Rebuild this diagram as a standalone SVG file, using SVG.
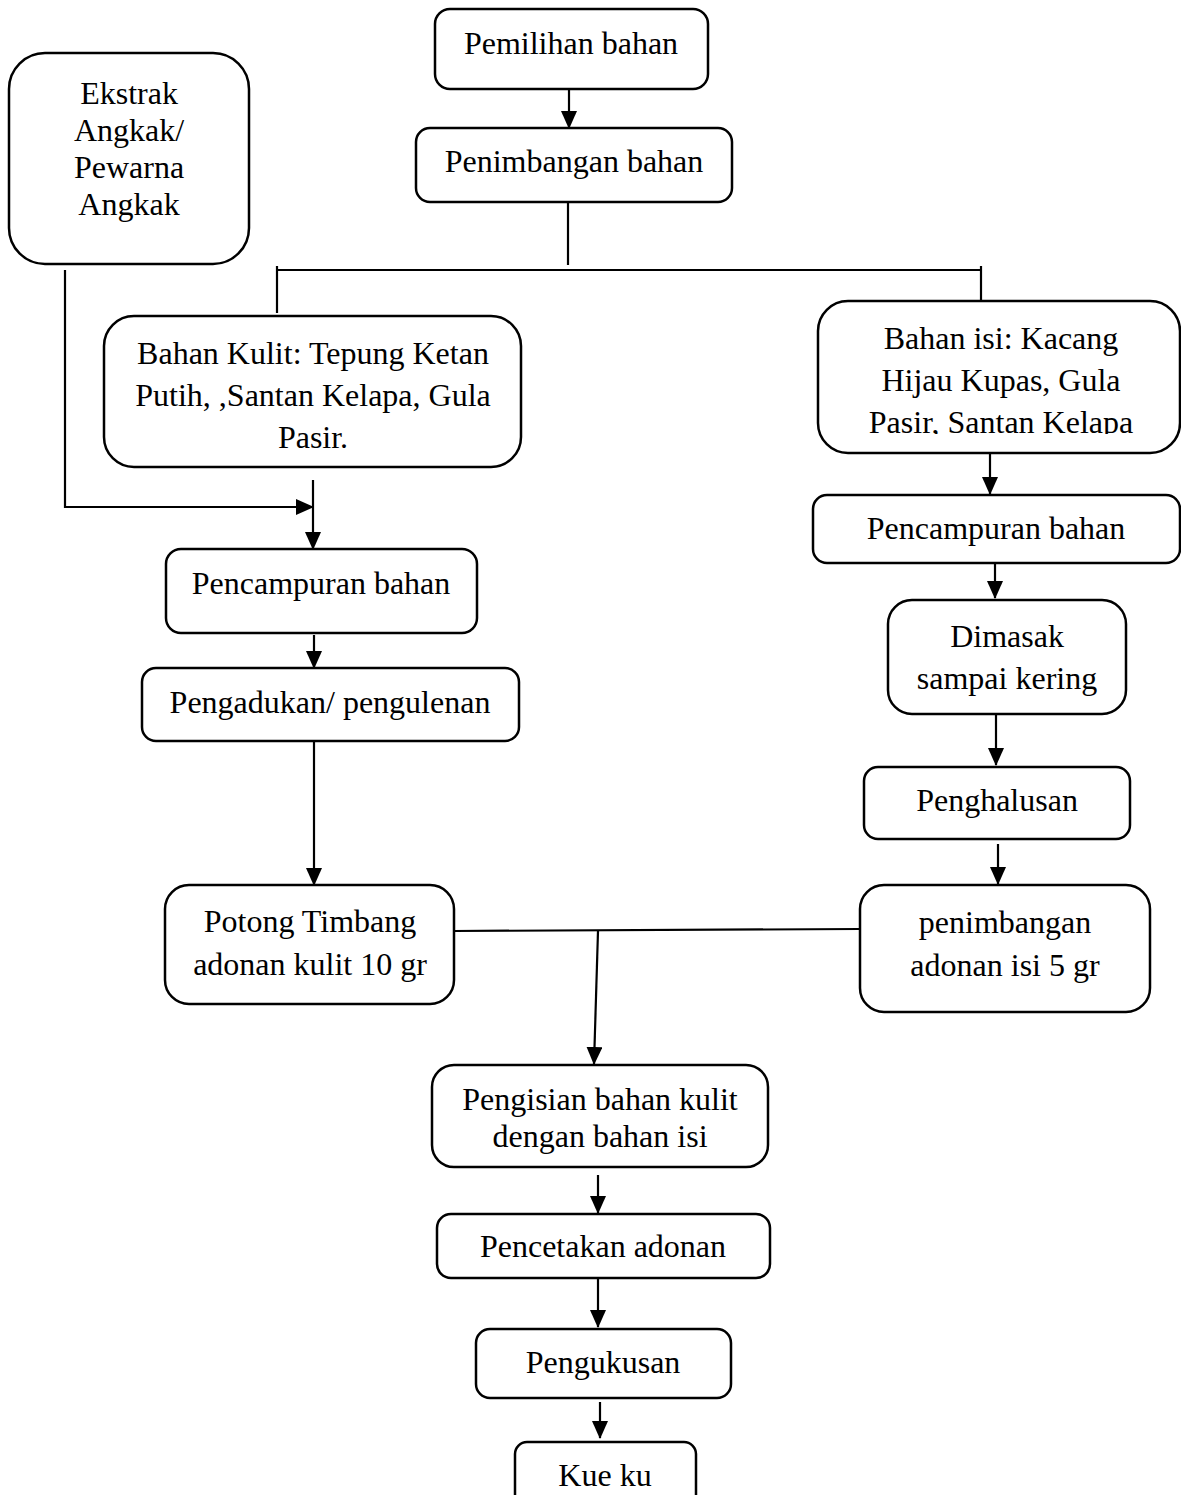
<svg xmlns="http://www.w3.org/2000/svg" width="1181" height="1495" viewBox="0 0 1181 1495">
<style>
.box{fill:#fff;stroke:#000;stroke-width:2.5}
.t{font-family:"Liberation Serif","Times New Roman",serif;font-size:32px;fill:#000;text-anchor:middle}
.c{fill:none;stroke:#000;stroke-width:2.2}
.ca{fill:none;stroke:#000;stroke-width:2.2;marker-end:url(#ah)}
</style>
<defs>
<marker id="ah" viewBox="0 0 18 16" refX="17" refY="8" markerWidth="18" markerHeight="16" markerUnits="userSpaceOnUse" orient="auto">
<path d="M0,0 L18,8 L0,16 Z" fill="#000"/>
</marker>
<clipPath id="clipIsi"><rect x="818" y="301" width="363" height="133"/></clipPath>
</defs>
<rect width="1181" height="1495" fill="#fff"/>
<g id="connectors">
<line class="ca" x1="569" y1="89" x2="569" y2="128"/>
<line class="c" x1="568" y1="203" x2="568" y2="265"/>
<line class="c" x1="277" y1="270" x2="981" y2="270"/>
<line class="c" x1="277" y1="266" x2="277" y2="313"/>
<line class="c" x1="981" y1="266" x2="981" y2="301"/>
<polyline class="ca" points="65,270 65,507 313,507"/>
<line class="ca" x1="313" y1="480" x2="313" y2="549"/>
<line class="ca" x1="314" y1="635" x2="314" y2="668"/>
<line class="ca" x1="314" y1="738" x2="314" y2="885"/>
<line class="ca" x1="990" y1="453" x2="990" y2="494"/>
<line class="ca" x1="995" y1="564" x2="995" y2="598"/>
<line class="ca" x1="996" y1="714" x2="996" y2="765"/>
<line class="ca" x1="998" y1="844" x2="998" y2="884"/>
<line class="c" x1="454" y1="931" x2="860" y2="929"/>
<line class="ca" x1="598" y1="931" x2="594" y2="1064"/>
<line class="ca" x1="598" y1="1175" x2="598" y2="1213"/>
<line class="ca" x1="598" y1="1278" x2="598" y2="1327"/>
<line class="ca" x1="600" y1="1402" x2="600" y2="1438"/>
</g>
<g id="n-pemilihan"><rect class="box" x="435" y="9" width="273" height="80" rx="15"/><text class="t" x="571" y="54">Pemilihan bahan</text></g>
<g id="n-penimbangan"><rect class="box" x="416" y="128" width="316" height="74" rx="14"/><text class="t" x="574" y="172">Penimbangan bahan</text></g>
<g id="n-ekstrak"><rect class="box" x="9" y="53" width="240" height="211" rx="36"/>
<text class="t" x="129" y="104">Ekstrak</text><text class="t" x="129" y="141">Angkak/</text><text class="t" x="129" y="178">Pewarna</text><text class="t" x="129" y="215">Angkak</text></g>
<g id="n-kulit"><rect class="box" x="104" y="316" width="417" height="151" rx="30"/>
<text class="t" x="313" y="364">Bahan Kulit: Tepung Ketan</text><text class="t" x="313" y="406">Putih, ,Santan Kelapa, Gula</text><text class="t" x="313" y="448">Pasir.</text></g>
<g id="n-isi"><rect class="box" x="818" y="301" width="362" height="152" rx="30"/>
<text class="t" x="1001" y="349">Bahan isi: Kacang</text><text class="t" x="1001" y="391">Hijau Kupas, Gula</text><text class="t" x="1001" y="433" clip-path="url(#clipIsi)">Pasir, Santan Kelapa</text></g>
<g id="n-campur-kiri"><rect class="box" x="166" y="549" width="311" height="84" rx="15"/><text class="t" x="321" y="594">Pencampuran bahan</text></g>
<g id="n-adukan"><rect class="box" x="142" y="668" width="377" height="73" rx="14"/><text class="t" x="330" y="713">Pengadukan/ pengulenan</text></g>
<g id="n-potong"><rect class="box" x="165" y="885" width="289" height="119" rx="24"/>
<text class="t" x="310" y="932">Potong Timbang</text><text class="t" x="310" y="975">adonan kulit 10 gr</text></g>
<g id="n-campur-kanan"><rect class="box" x="813" y="495" width="367" height="68" rx="14"/><text class="t" x="996" y="539">Pencampuran bahan</text></g>
<g id="n-dimasak"><rect class="box" x="888" y="600" width="238" height="114" rx="24"/>
<text class="t" x="1007" y="647">Dimasak</text><text class="t" x="1007" y="689">sampai kering</text></g>
<g id="n-penghalusan"><rect class="box" x="864" y="767" width="266" height="72" rx="14"/><text class="t" x="997" y="811">Penghalusan</text></g>
<g id="n-timbang-isi"><rect class="box" x="860" y="885" width="290" height="127" rx="24"/>
<text class="t" x="1005" y="933">penimbangan</text><text class="t" x="1005" y="976">adonan isi 5 gr</text></g>
<g id="n-pengisian"><rect class="box" x="432" y="1065" width="336" height="102" rx="22"/>
<text class="t" x="600" y="1110">Pengisian bahan kulit</text><text class="t" x="600" y="1147">dengan bahan isi</text></g>
<g id="n-pencetakan"><rect class="box" x="437" y="1214" width="333" height="64" rx="14"/><text class="t" x="603" y="1257">Pencetakan adonan</text></g>
<g id="n-pengukusan"><rect class="box" x="476" y="1329" width="255" height="69" rx="14"/><text class="t" x="603" y="1373">Pengukusan</text></g>
<g id="n-kue"><rect class="box" x="515" y="1442" width="181" height="70" rx="12"/><text class="t" x="605" y="1486">Kue ku</text></g>
</svg>
